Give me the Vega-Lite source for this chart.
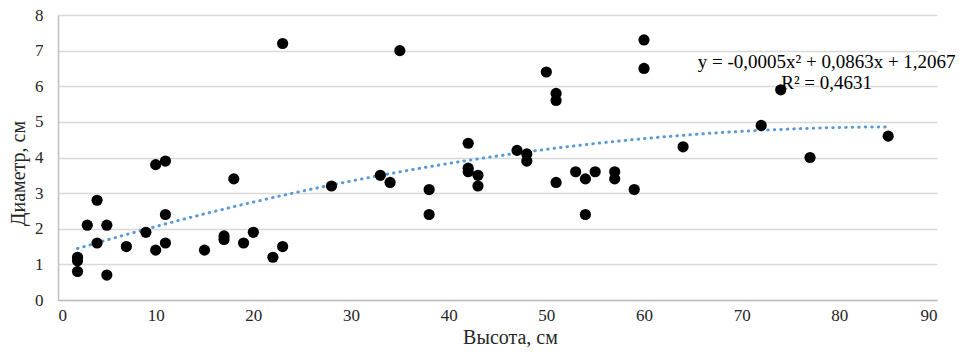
{
  "$schema": "https://vega.github.io/schema/vega-lite/v6.json",
  "width": 879,
  "height": 285,
  "autosize": {"type": "none"},
  "padding": {"left": 58, "top": 15, "right": 22, "bottom": 55},
  "background": "white",
  "config": {
    "view": {"stroke": null},
    "font": "Liberation Serif",
    "axis": {"labelFont": "Liberation Serif", "titleFont": "Liberation Serif", "labelColor": "#262626", "titleColor": "#262626", "titleFontWeight": "normal", "labelOverlap": false}
  },
  "datasets": {
    "pts": [
      {"h": 2, "d": 1.2}, {"h": 2, "d": 1.1}, {"h": 2, "d": 0.8}, {"h": 3, "d": 2.1},
      {"h": 4, "d": 2.8}, {"h": 4, "d": 1.6}, {"h": 5, "d": 2.1}, {"h": 5, "d": 0.7},
      {"h": 7, "d": 1.5}, {"h": 9, "d": 1.9}, {"h": 10, "d": 3.8}, {"h": 10, "d": 1.4},
      {"h": 11, "d": 3.9}, {"h": 11, "d": 2.4}, {"h": 11, "d": 1.6}, {"h": 15, "d": 1.4},
      {"h": 17, "d": 1.8}, {"h": 17, "d": 1.7}, {"h": 18, "d": 3.4}, {"h": 19, "d": 1.6},
      {"h": 20, "d": 1.9}, {"h": 22, "d": 1.2}, {"h": 23, "d": 7.2}, {"h": 23, "d": 1.5},
      {"h": 28, "d": 3.2}, {"h": 33, "d": 3.5}, {"h": 34, "d": 3.3}, {"h": 35, "d": 7.0},
      {"h": 38, "d": 3.1}, {"h": 38, "d": 2.4}, {"h": 42, "d": 4.4}, {"h": 42, "d": 3.7},
      {"h": 42, "d": 3.6}, {"h": 43, "d": 3.5}, {"h": 43, "d": 3.2}, {"h": 47, "d": 4.2},
      {"h": 48, "d": 4.1}, {"h": 48, "d": 3.9}, {"h": 50, "d": 6.4}, {"h": 51, "d": 5.8},
      {"h": 51, "d": 5.6}, {"h": 51, "d": 3.3}, {"h": 53, "d": 3.6}, {"h": 54, "d": 3.4},
      {"h": 54, "d": 2.4}, {"h": 55, "d": 3.6}, {"h": 57, "d": 3.6}, {"h": 57, "d": 3.4},
      {"h": 59, "d": 3.1}, {"h": 60, "d": 7.3}, {"h": 60, "d": 6.5}, {"h": 64, "d": 4.3},
      {"h": 72, "d": 4.9}, {"h": 74, "d": 5.9}, {"h": 77, "d": 4.0}, {"h": 85, "d": 4.6}
    ],
    "labels": [
      {"h": 78.7, "d": 6.69, "t": "y = -0,0005x² + 0,0863x + 1,2067"},
      {"h": 78.7, "d": 6.1, "t": "R² = 0,4631"}
    ]
  },
  "encoding": {
    "x": {
      "field": "h", "type": "quantitative",
      "scale": {"domain": [0, 90], "nice": false, "zero": true},
      "axis": {"values": [0, 10, 20, 30, 40, 50, 60, 70, 80, 90], "grid": false, "ticks": false, "domainColor": "#bfbfbf", "domainWidth": 1.5, "labelFontSize": 17, "labelPadding": 7, "title": "Высота, см", "titleFontSize": 20, "titlePadding": 4, "titleX": 452}
    },
    "y": {
      "field": "d", "type": "quantitative",
      "scale": {"domain": [0, 8], "nice": false},
      "axis": {"values": [0, 1, 2, 3, 4, 5, 6, 7, 8], "tickCount": 9, "grid": true, "gridColor": "#d9d9d9", "gridWidth": 1.5, "ticks": false, "domainColor": "#bfbfbf", "domainWidth": 1.5, "labelFontSize": 17, "labelPadding": 15, "title": "Диаметр, см", "titleFontSize": 20, "titlePadding": 6, "titleY": 158}
    }
  },
  "layer": [
    {
      "data": {"name": "pts"},
      "transform": [{"regression": "d", "on": "h", "method": "poly", "order": 2, "extent": [2, 85]}],
      "mark": {"type": "line", "color": "#5B9BD5", "strokeWidth": 3, "strokeDash": [0.5, 6], "strokeCap": "round", "clip": false}
    },
    {
      "data": {"name": "pts"},
      "mark": {"type": "circle", "color": "black", "opacity": 1, "size": 125}
    },
    {
      "data": {"name": "labels"},
      "mark": {"type": "text", "fontSize": 19, "color": "#000000", "align": "center", "baseline": "middle", "font": "Liberation Serif"},
      "encoding": {
        "text": {"field": "t"}
      }
    }
  ]
}
